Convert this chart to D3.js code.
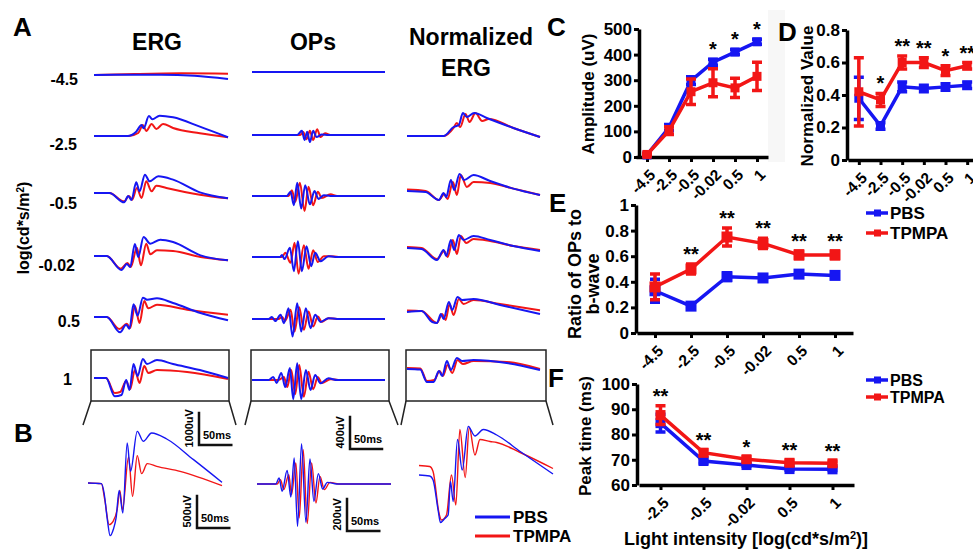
<!DOCTYPE html>
<html>
<head>
<meta charset="utf-8">
<script src="https://cdn.jsdelivr.net/npm/d3@7"></script>
<style>
  body { margin: 0; background: #fff; }
  text { font-family: "Liberation Sans", Arial, sans-serif; font-weight: bold; fill: #000; }
</style>
</head>
<body>
<script>
"use strict";
// ---------------- data ----------------
const intensities = ["-4.5", "-2.5", "-0.5", "-0.02", "0.5", "1"];
const peakIntensities = ["-2.5", "-0.5", "-0.02", "0.5", "1"];
const groups = ["PBS", "TPMPA"];

// C: amplitude (uV)
const ampPBS = [8, 115, 298, 370, 410, 450];
const ampPBSErr = [5, 12, 15, 12, 10, 10];
const ampTPMPA = [10, 103, 255, 290, 270, 315];
const ampTPMPAErr = [5, 15, 50, 55, 38, 55];
const ampTicks = [0, 100, 200, 300, 400, 500];
const ampStars = ["", "", "", "*", "*", "*"];

// D: normalized value
const normPBS = [0.38, 0.21, 0.45, 0.44, 0.45, 0.46];
const normPBSErr = [0.13, 0.02, 0.03, 0.02, 0.02, 0.02];
const normTPMPA = [0.42, 0.37, 0.60, 0.60, 0.55, 0.58];
const normTPMPAErr = [0.21, 0.04, 0.04, 0.03, 0.03, 0.02];
const normTicks = [0, 0.2, 0.4, 0.6, 0.8];
const normStars = ["", "*", "**", "**", "*", "**"];

// E: ratio of OPs to b-wave
const ratioPBS = [0.33, 0.21, 0.44, 0.43, 0.46, 0.45];
const ratioPBSErr = [0.09, 0.02, 0.03, 0.02, 0.02, 0.01];
const ratioTPMPA = [0.36, 0.50, 0.75, 0.70, 0.61, 0.61];
const ratioTPMPAErr = [0.10, 0.04, 0.07, 0.04, 0.03, 0.03];
const ratioTicks = [0, 0.2, 0.4, 0.6, 0.8, 1];
const ratioStars = ["", "**", "**", "**", "**", "**"];

// F: peak time (ms)
const peakPBS = [84.5, 69.5, 67.9, 66.3, 66.2];
const peakPBSErr = [3.5, 0.8, 0.5, 0.5, 0.5];
const peakTPMPA = [87.7, 72.8, 70.2, 68.8, 68.6];
const peakTPMPAErr = [3.7, 1.2, 1.0, 1.0, 0.8];
const peakTicks = [60, 70, 80, 90, 100];
const peakStars = ["**", "**", "*", "**", "**"];

// A: ERG traces, [time ms, uV], one per intensity
const ergPBS = [
  [[0,0],[100,10],[150,-20],[200,-120]],
  [[0,0],[50,0],[63,130],[71,330],[74,230],[82,600],[87,500],[98,610],[118,560],[158,280],[200,-40]],
  [[0,0],[23,0],[45,-280],[51,-90],[56,-210],[63,320],[68,50],[76,550],[83,350],[96,500],[118,400],[158,20],[200,-160]],
  [[0,0],[19,0],[41,-420],[49,-240],[54,-330],[61,360],[66,-30],[74,570],[84,370],[99,490],[118,420],[159,20],[200,-130]],
  [[0,0],[19,0],[39,-460],[48,-230],[53,-350],[59,380],[65,40],[73,580],[79,520],[94,560],[118,420],[159,120],[200,-100]],
  [[0,0],[18,0],[31,-550],[41,-510],[48,-60],[53,-360],[59,420],[65,60],[73,570],[79,420],[94,540],[118,420],[158,240],[200,0]]
];
const ergTPMPA = [
  [[0,0],[60,30],[130,50],[200,40]],
  [[0,0],[52,0],[66,90],[73,330],[78,150],[86,360],[93,210],[103,360],[118,240],[158,80],[200,-40]],
  [[0,0],[23,0],[45,-250],[52,-90],[57,-200],[64,150],[71,-150],[78,350],[86,50],[93,220],[108,150],[158,-50],[200,-160]],
  [[0,0],[19,0],[40,-380],[50,-210],[55,-330],[64,250],[70,-280],[78,370],[84,50],[94,170],[118,150],[159,-30],[200,-130]],
  [[0,0],[19,0],[38,-360],[49,-200],[54,-330],[61,330],[68,-180],[75,480],[81,260],[94,370],[139,220],[200,70]],
  [[0,0],[18,0],[31,-450],[39,-420],[48,-90],[54,-330],[61,240],[68,-150],[75,360],[81,150],[94,240],[139,180],[200,-30]]
];

// A: OPs traces, [time ms, uV]
const opsPBS = [
  [[0,0],[200,0]],
  [[0,0],[68,0],[75,50],[79,-60],[83,40],[87,-85],[92,50],[97,-25],[105,5],[115,0],[200,0]],
  [[0,0],[52,0],[58,50],[63,-110],[68,160],[74,-150],[80,130],[87,-100],[94,60],[100,-35],[108,10],[118,0],[200,0]],
  [[0,0],[42,0],[45,25],[49,-25],[57,110],[63,-170],[69,190],[75,-170],[82,130],[89,-110],[95,50],[103,-50],[115,10],[125,0],[200,0]],
  [[0,0],[25,0],[30,25],[35,-25],[43,50],[48,-50],[55,130],[61,-210],[68,190],[74,-150],[81,130],[88,-110],[95,50],[103,-35],[115,10],[128,0],[200,0]],
  [[0,0],[25,0],[32,35],[37,-35],[44,85],[50,-85],[57,145],[62,-230],[68,200],[74,-230],[81,120],[88,-120],[95,60],[103,-40],[115,20],[128,0],[200,0]]
];
const opsTPMPA = [
  [[0,0],[200,0]],
  [[0,0],[72,0],[77,35],[82,-50],[87,50],[92,-60],[98,70],[103,-25],[110,20],[118,0],[200,0]],
  [[0,0],[55,0],[60,70],[65,-70],[72,160],[79,-180],[85,110],[92,-110],[99,50],[105,-25],[118,20],[128,0],[200,0]],
  [[0,0],[45,0],[50,50],[58,-70],[64,170],[70,-200],[78,140],[85,-140],[92,80],[99,-60],[108,10],[118,10],[130,0],[200,0]],
  [[0,0],[40,0],[45,25],[50,-20],[58,110],[64,-150],[71,140],[78,-130],[85,90],[92,-90],[99,30],[105,-35],[115,10],[128,0],[200,0]],
  [[0,0],[40,0],[48,35],[53,-85],[59,120],[65,-170],[71,180],[78,-200],[85,100],[92,-110],[99,35],[105,-35],[118,10],[130,0],[200,0]]
];

// A: normalized ERG traces, [time ms, normalized amplitude]
const nergPBS = [
  [],
  [[0,0],[55,0],[70,0.45],[78,0.55],[84,1.15],[90,0.95],[101,1.15],[120,0.9],[160,0.4],[200,-0.05]],
  [[0,0],[28,-0.05],[48,-0.45],[55,-0.1],[59,-0.3],[66,0.55],[71,0.05],[79,0.85],[86,0.55],[100,0.8],[125,0.5],[160,0.12],[200,-0.2]],
  [[0,0],[22,-0.05],[45,-0.6],[55,-0.1],[59,-0.4],[66,0.4],[71,-0.1],[78,0.65],[85,0.4],[100,0.6],[125,0.4],[160,0.1],[200,-0.15]],
  [[0,0],[22,0.05],[38,-0.5],[45,-0.55],[51,-0.1],[55,-0.35],[63,0.5],[68,0.1],[76,0.75],[83,0.6],[100,0.65],[140,0.35],[200,-0.1]],
  [[0,0],[20,-0.03],[30,-0.65],[40,-0.65],[48,-0.1],[53,-0.35],[60,0.4],[66,-0.05],[75,0.55],[83,0.4],[100,0.45],[150,0.3],[200,-0.05]]
];
const nergTPMPA = [
  [],
  [[0,0],[55,0],[70,0.4],[75,0.65],[80,0.45],[88,1.1],[94,0.7],[103,1.15],[113,0.75],[123,0.85],[160,0.4],[200,-0.05]],
  [[0,0.07],[28,0],[48,-0.45],[56,-0.15],[61,-0.4],[69,0.45],[75,-0.2],[81,0.8],[90,0.2],[100,0.45],[125,0.4],[160,0.12],[200,-0.2]],
  [[0,0.05],[22,0],[45,-0.55],[56,-0.15],[61,-0.45],[69,0.4],[75,-0.3],[81,0.6],[89,0.25],[100,0.45],[125,0.35],[160,0.1],[200,-0.1]],
  [[0,0.08],[22,0.05],[45,-0.55],[53,-0.1],[58,-0.4],[64,0.4],[70,-0.15],[78,0.65],[85,0.4],[100,0.6],[140,0.4],[200,0.08]],
  [[0,0.05],[20,0.03],[30,-0.6],[41,-0.55],[49,-0.1],[54,-0.35],[61,0.2],[68,-0.2],[76,0.45],[84,0.25],[100,0.4],[150,0.35],[200,0]]
];

// B: enlarged traces at intensity 1
const bErgPBS = [[0,0],[20,-10],[24,-150],[29,-560],[33,-790],[38,-690],[42,-520],[46.5,-110],[52,-450],[58.5,600],[63.5,175],[73.5,775],[82.5,625],[95,750],[117.5,660],[157.5,350],[200,10]];
const bErgTPMPA = [[0,0],[20,-10],[25,-250],[31.5,-625],[37.5,-575],[43.5,-400],[47.5,-110],[51.5,-400],[60.5,390],[66.5,-200],[73.5,410],[80,140],[88.5,290],[102.5,250],[137.5,175],[200,-40]];
const bOpsPBS = [[0,0],[28,0],[33,36],[37.5,-44],[45,82],[50.5,-78],[55.5,156],[60.5,-254],[66.5,242],[73,-230],[79,150],[85,-104],[91.5,62],[98,-30],[105,10],[119,0],[200,0]];
const bOpsTPMPA = [[0,0],[30,0],[35,26],[40,-34],[47.5,56],[51.5,-64],[58,126],[63,-204],[69,206],[75,-238],[81.5,126],[88,-114],[94,46],[100.5,-34],[109,10],[122,0],[200,0]];
const bNergPBS = [[0,0],[16,-0.02],[21,-0.1],[28.5,-0.7],[32,-0.95],[38.5,-0.87],[43.5,-0.8],[47,-0.13],[51,-0.53],[57.5,0.71],[64.5,0.1],[73.5,0.97],[83.5,0.78],[96,0.91],[116,0.8],[151,0.47],[200,0.02]];
const bNergTPMPA = [[0,0.19],[16,0.17],[21,0.07],[30,-0.77],[33.5,-0.9],[41,-0.8],[48.5,0],[55,-0.6],[61,0.91],[69,-0.05],[75,0.95],[83.5,0.4],[91,0.71],[106,0.67],[116,0.65],[151,0.45],[200,0.13]];

// ---------------- drawing ----------------
const pbsColor = "#1616f2";
const tpColor = "#f21616";

const svg = d3.select("body").append("svg")
  .attr("width", 973)
  .attr("height", 550);

function label(x, y, txt, size, anchor, rotate) {
  const t = svg.append("text")
    .attr("font-size", size)
    .attr("text-anchor", anchor || "start")
    .text(txt);
  if (rotate) t.attr("transform", `translate(${x},${y}) rotate(${rotate})`);
  else t.attr("x", x).attr("y", y);
  return t;
}

// faint scanned band between C and D (drawn first, under everything)
svg.append("rect").attr("x", 768).attr("y", 10).attr("width", 17).attr("height", 152).attr("fill", "#f7f7f7");

// panel letters
[["A", 13, 36], ["B", 14, 442], ["C", 547, 36], ["D", 778, 41], ["E", 549, 212], ["F", 548, 387]]
  .forEach(d => label(d[1], d[2], d[0], 26));

// ----- panel A and B traces -----
label(157, 50, "ERG", 23, "middle");
label(313, 50, "OPs", 23, "middle");
label(471, 45, "Normalized", 23, "middle");
label(466, 76, "ERG", 23, "middle");

const rowLabelX = [78, 77, 77, 75, 80, 72];
const rowLabelY = [85, 150, 209, 271, 327, 385];
intensities.forEach((d, i) => label(rowLabelX[i], rowLabelY[i], d, 16, "end"));

const yTitleA = label(29, 228, "log(cd*s/m", 16, "middle", -90);
yTitleA.append("tspan").attr("baseline-shift", "super").attr("font-size", 10).text("2");
yTitleA.append("tspan").text(")");

function traceScales(x0, x1, base, vHalf, pxHalf) {
  return {
    x: d3.scaleLinear().domain([0, 200]).range([x0, x1]),
    y: d3.scaleLinear().domain([-vHalf, vHalf]).range([base + pxHalf, base - pxHalf])
  };
}

function drawTraces(pbs, tp, sc, width) {
  const line = d3.line().x(d => sc.x(d[0])).y(d => sc.y(d[1])).curve(d3.curveMonotoneX);
  [[tp, tpColor], [pbs, pbsColor]].forEach(([pts, c]) => {
    if (!pts.length) return;
    svg.append("path").datum(pts)
      .attr("fill", "none")
      .attr("stroke", c)
      .attr("stroke-width", width)
      .attr("stroke-linejoin", "round")
      .attr("d", line);
  });
}

const ergBase = [75, 136, 193, 256, 317, 378];
const opsBase = [72, 135, 196, 257, 319, 380];
const nergBase = [0, 136, 191, 248, 312, 369];
let ergScale, opsScale;
intensities.forEach((d, i) => {
  const e = traceScales(94, 228, ergBase[i], 600, 20);
  const o = traceScales(252, 385, opsBase[i], 240, 20);
  const n = traceScales(407, 540, nergBase[i], 1, 20);
  drawTraces(ergPBS[i], ergTPMPA[i], e, 2);
  drawTraces(opsPBS[i], opsTPMPA[i], o, 2);
  drawTraces(nergPBS[i], nergTPMPA[i], n, 2);
  ergScale = e; opsScale = o;
});

// zoom frames around intensity 1 and their connectors to B
const frames = [[91, 229, 83, 236], [251, 389, 245, 398], [406, 546, 401, 553]];
frames.forEach(f => {
  svg.append("rect").attr("x", f[0]).attr("y", 350).attr("width", f[1] - f[0]).attr("height", 51)
    .attr("fill", "none").attr("stroke", "#222").attr("stroke-width", 1.5);
  svg.append("path").attr("d", `M${f[0]},401L${f[2]},425M${f[1]},401L${f[3]},425`)
    .attr("fill", "none").attr("stroke", "#222").attr("stroke-width", 1.5);
});

const bErg = traceScales(88, 222, 483, 900, 60);
const bOps = traceScales(257, 391, 484, 300, 50);
const bNerg = traceScales(419, 553, 475, 1, 50);
drawTraces(bErgPBS, bErgTPMPA, bErg, 1.4);
drawTraces(bOpsPBS, bOpsTPMPA, bOps, 1.4);
drawTraces(bNergPBS, bNergTPMPA, bNerg, 1.4);

// scale bars drawn from the trace scales
function scaleBar(sc, x0, yb, uv) {
  const w = sc.x(50) - sc.x(0);
  const h = sc.y(0) - sc.y(uv);
  svg.append("path").attr("d", `M${x0},${yb - h}V${yb}H${x0 + w}`)
    .attr("fill", "none").attr("stroke", "#111").attr("stroke-width", 2.5);
  label(x0 - 6, yb - h / 2, uv + "uV", 11, "middle", -90);
  label(x0 + 4, yb - 6, "50ms", 11);
}
scaleBar(ergScale, 199, 445, 1000);
scaleBar(bErg, 197, 528, 500);
scaleBar(opsScale, 350, 449, 400);
scaleBar(bOps, 347, 531, 200);

// B legend
[["PBS", pbsColor, 517], ["TPMPA", tpColor, 536]].forEach(d => {
  svg.append("line").attr("x1", 475).attr("x2", 510).attr("y1", d[2]).attr("y2", d[2])
    .attr("stroke", d[1]).attr("stroke-width", 3);
  label(513, d[2] + 6, d[0], 17);
});

// ----- panels C-F -----
function drawPanel(p) {
  const g = svg.append("g");
  const x = d3.scalePoint().domain(p.cats).range(p.xRange).padding(0.5);
  const y = d3.scaleLinear().domain(p.yDomain).range(p.yRange);

  const ay = g.append("g").attr("transform", `translate(${p.axisX},0)`)
    .call(d3.axisLeft(y).tickValues(p.ticks).tickFormat(d3.format("~g")).tickSize(5).tickSizeOuter(0));
  const ax = g.append("g").attr("transform", `translate(0,${p.yRange[0]})`)
    .call(d3.axisBottom(x).tickSize(5).tickSizeOuter(0));
  [ay, ax].forEach(a => {
    a.attr("font-family", null).attr("font-size", null);
    a.select(".domain").attr("stroke-width", 3.5);
    a.selectAll(".tick line").attr("stroke-width", 3);
  });
  ay.selectAll(".tick text").attr("font-size", 17).attr("x", -7);
  ax.selectAll(".tick text")
    .attr("font-size", 15.5)
    .attr("y", 0).attr("dy", "0.35em")
    .attr("text-anchor", "end")
    .attr("transform", "translate(5,15) rotate(-45)");

  const line = d3.line().x((d, i) => x(p.cats[i])).y(d => y(d));
  p.series.forEach(s => {
    g.append("path").datum(s.values)
      .attr("fill", "none").attr("stroke", s.color).attr("stroke-width", 3.5)
      .attr("d", line);
    const bars = g.append("g").attr("stroke", s.color).attr("stroke-width", 3.5);
    s.values.forEach((v, i) => {
      const cx = x(p.cats[i]);
      const lo = y(v - s.errors[i]);
      const hi = y(v + s.errors[i]);
      bars.append("path").attr("d", `M${cx},${lo}V${hi}M${cx - 5},${lo}H${cx + 5}M${cx - 5},${hi}H${cx + 5}`);
    });
    g.selectAll(null).data(s.values).enter().append("rect")
      .attr("x", (d, i) => x(p.cats[i]) - p.mark / 2)
      .attr("y", d => y(d) - p.mark / 2)
      .attr("width", p.mark).attr("height", p.mark)
      .attr("fill", s.color);
  });

  p.stars.forEach((s, i) => {
    if (!s) return;
    const top = d3.min(p.series, ser => y(ser.values[i] + ser.errors[i]));
    g.append("text").attr("x", x(p.cats[i])).attr("y", top - 3)
      .attr("text-anchor", "middle").attr("font-size", 20).text(s);
  });
  return {x, y};
}

drawPanel({
  cats: intensities, xRange: [636, 768], axisX: 639,
  yDomain: [0, 500], yRange: [157, 29], ticks: ampTicks, mark: 9,
  series: [{values: ampPBS, errors: ampPBSErr, color: pbsColor},
           {values: ampTPMPA, errors: ampTPMPAErr, color: tpColor}],
  stars: ampStars
});
label(594, 94, "Amplitude (uV)", 17, "middle", -90);

drawPanel({
  cats: intensities, xRange: [848, 978], axisX: 847,
  yDomain: [0, 0.8], yRange: [160, 30], ticks: normTicks, mark: 9,
  series: [{values: normPBS, errors: normPBSErr, color: pbsColor},
           {values: normTPMPA, errors: normTPMPAErr, color: tpColor}],
  stars: normStars
});
label(813, 96, "Normalized Value", 17, "middle", -90);

drawPanel({
  cats: intensities, xRange: [637, 853], axisX: 636,
  yDomain: [0, 1], yRange: [333, 205], ticks: ratioTicks, mark: 11,
  series: [{values: ratioPBS, errors: ratioPBSErr, color: pbsColor},
           {values: ratioTPMPA, errors: ratioTPMPAErr, color: tpColor}],
  stars: ratioStars
});
label(581, 274, "Ratio of OPs to", 18, "middle", -90);
label(599, 284, "b-wave", 18, "middle", -90);

drawPanel({
  cats: peakIntensities, xRange: [639, 854], axisX: 637,
  yDomain: [60, 100], yRange: [485, 384], ticks: peakTicks, mark: 10,
  series: [{values: peakPBS, errors: peakPBSErr, color: pbsColor},
           {values: peakTPMPA, errors: peakTPMPAErr, color: tpColor}],
  stars: peakStars
});
label(591, 436, "Peak time (ms)", 17, "middle", -90);
const xTitleF = label(746, 545, "Light intensity [log(cd*s/m", 18, "middle");
xTitleF.append("tspan").attr("baseline-shift", "super").attr("font-size", 11).text("2");
xTitleF.append("tspan").text(")]");

// legends for E and F
function panelLegend(y0, gap, size) {
  groups.forEach((name, i) => {
    const c = i ? tpColor : pbsColor;
    const yy = y0 + i * gap;
    svg.append("line").attr("x1", 866).attr("x2", 888).attr("y1", yy).attr("y2", yy)
      .attr("stroke", c).attr("stroke-width", 3.5);
    svg.append("rect").attr("x", 874).attr("y", yy - 3.5).attr("width", 7).attr("height", 7).attr("fill", c);
    label(890, yy + 6, name, size);
  });
}
panelLegend(213, 20, 17);
panelLegend(380, 17, 16);
</script>
</body>
</html>
